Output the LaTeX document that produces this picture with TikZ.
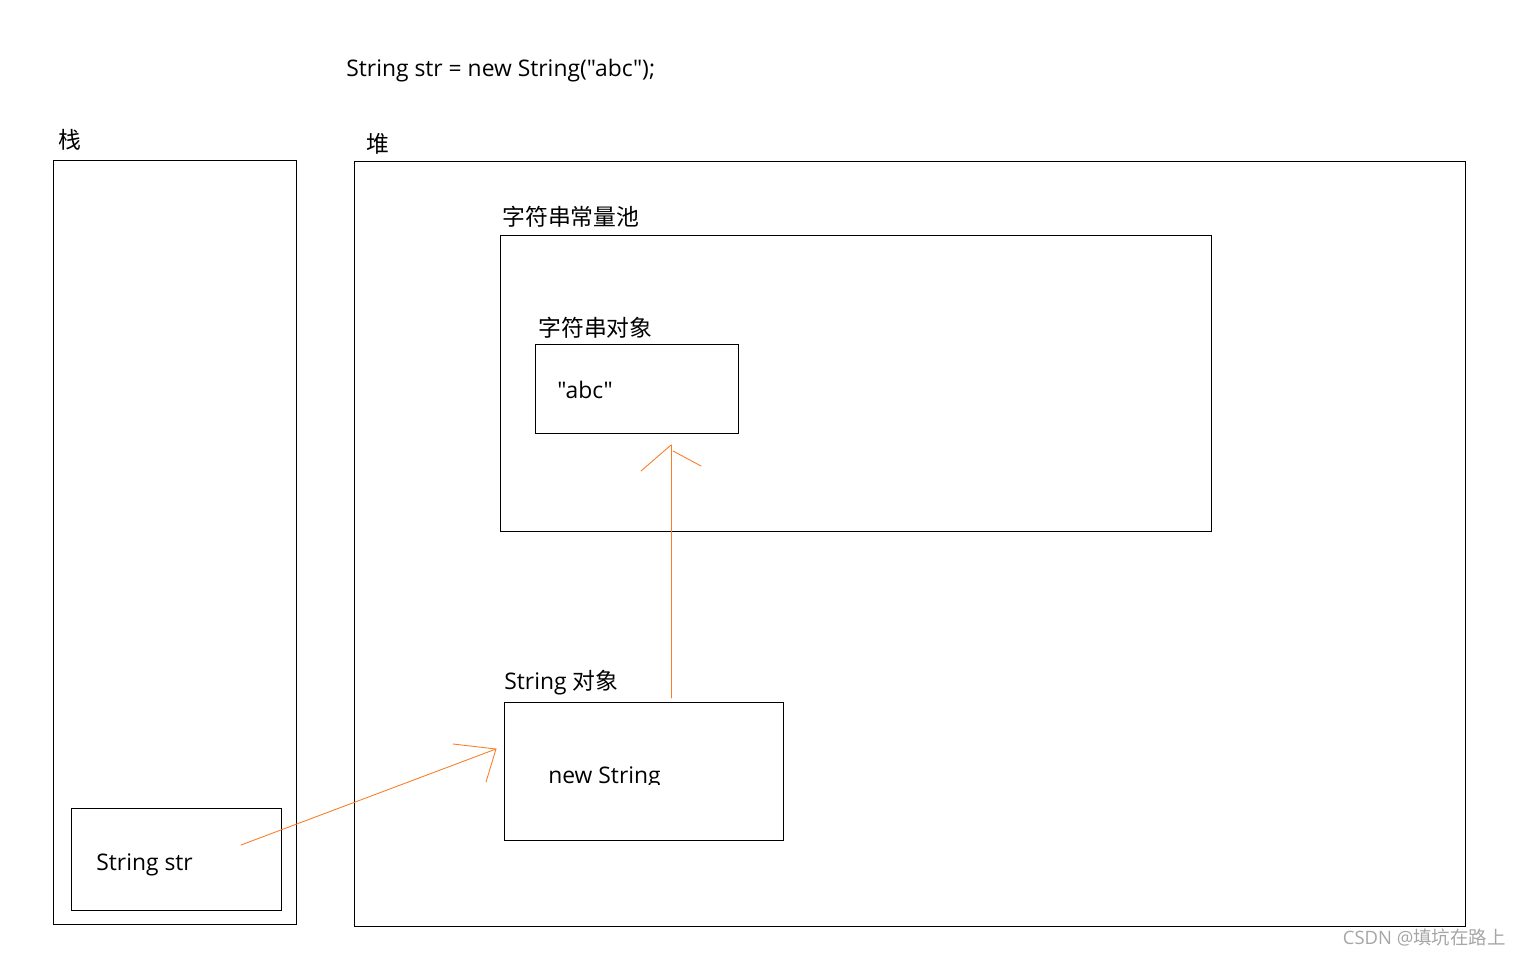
\documentclass[tikz,border=0pt]{standalone}
\usepackage{fontspec}
\setmainfont{Open Sans}[Ligatures=TeXOff]
\newfontfamily\cjk{Noto Sans CJK SC}
\usepackage{tikz}
\usetikzlibrary{fit}
\usetikzlibrary{positioning}
\definecolor{ptrorange}{RGB}{250,125,40}
\tikzset{
    box/.style = {rectangle, draw=black, line width=0.55pt, inner sep=0pt},
    lbl/.style = {anchor=base west, inner sep=0pt, font=\fontsize{13}{16}\selectfont},
}

\begin{document}
\begin{tikzpicture}[
	x=0.02cm, y=-0.02cm
]
\tikzset{
    ptr/.style = {-, ptrorange, line width=0.5pt, line cap=round},
    wmark/.style = {anchor=base east, inner sep=0pt, gray!70, font=\fontsize{10.5}{12}\selectfont}
}
\useasboundingbox (0,0) rectangle (1522,957);
%
\node[lbl] (code) at (346,76) {String str = new String("abc");};
%
\node[box, fit={(53,160) (296,924)}] (stack) {};
\node[lbl] (stacklbl) at (58,148) {\cjk 栈};
\node[box, fit={(71,808) (281,910)}] (strvar) {};
\node[lbl] (strtxt) at (96,870) {String str};
%
\node[box, fit={(354,161) (1465,926)}] (heap) {};
\node[lbl] (heaplbl) at (366,152) {\cjk 堆};
\node[box, fit={(500,235) (1211,531)}] (pool) {};
\node[lbl] (poollbl) at (502,225) {\cjk 字符串常量池};
\node[box, fit={(535,344) (738,433)}] (abcobj) {};
\node[lbl] (abclbl) at (538,336) {\cjk 字符串对象};
\node[lbl] (abctxt) at (557,398) {"abc"};
\node[box, fit={(504,702) (783,840)}] (newobj) {};
\node[lbl] (newlbl) at (504,689) {String {\cjk 对象}};
\begin{scope}
\clip (505,740) rectangle (782,784);
\node[lbl] (newtxt) at (548,783) {new String};
\end{scope}
%
\coordinate (strtail) at (241,845);
\coordinate (objtip) at (496,749);
\draw[ptr] (strtail) -- (objtip);
\draw[ptr] (453,744) -- (objtip) -- (486,782);
%
\coordinate (reftail) at (671,698);
\coordinate (reftip) at (671,445);
\draw[ptr] (reftail) -- (reftip);
\draw[ptr] (641,471) -- (reftip);
\draw[ptr] (673,451) -- (701,466);
%
\node[wmark] (wm) at (1506,944) {CSDN @{\cjk 填坑在路上}};
\end{tikzpicture}
\end{document}
